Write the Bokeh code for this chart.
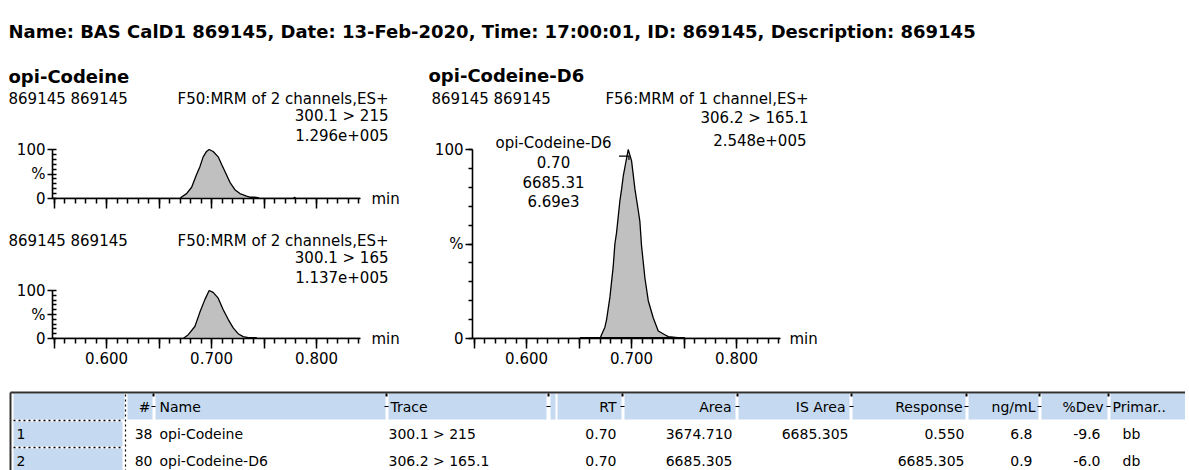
from bokeh.plotting import figure
from bokeh.layouts import column, row
from bokeh.models import Range1d, FixedTicker, ColumnDataSource, LinearAxis
from bokeh.embed import file_html
from bokeh.resources import INLINE
from bokeh.core.properties import value

FONT = "DejaVu Sans"

# ---------------- data ----------------
header_title = "Name: BAS  CalD1  869145, Date: 13-Feb-2020, Time: 17:00:01, ID: 869145, Description: 869145"

compound_1 = "opi-Codeine"
compound_2 = "opi-Codeine-D6"
sample_ids = "869145 869145"
func_1 = "F50:MRM of 2 channels,ES+"
func_2 = "F56:MRM of 1 channel,ES+"
trace_a = "300.1 > 215"
trace_b = "300.1 > 165"
trace_c = "306.2 > 165.1"
max_a = "1.296e+005"
max_b = "1.137e+005"
max_c = "2.548e+005"
peak_label_c = ["opi-Codeine-D6", "0.70", "6685.31", "6.69e3"]
x_unit = "min"

x_ticks_major = [0.55, 0.60, 0.65, 0.70, 0.75, 0.80]
x_tick_labels = {0.55: "", 0.6: "0.600", 0.65: "", 0.7: "0.700", 0.75: "", 0.8: "0.800"}
x_ticks_minor = [0.55, 0.56, 0.57, 0.58, 0.59, 0.60, 0.61, 0.62, 0.63, 0.64, 0.65, 0.66, 0.67,
                 0.68, 0.69, 0.70, 0.71, 0.72, 0.73, 0.74, 0.75, 0.76, 0.77, 0.78, 0.79, 0.80,
                 0.81, 0.82, 0.83, 0.84]
y_ticks_major = [0, 50, 100]
y_tick_labels = {0: "0", 50: "%", 100: "100"}
y_ticks_minor = [0, 10, 20, 30, 40, 50, 60, 70, 80, 90, 100]

# trace 300.1 > 215 (opi-Codeine, quan)
time_a = [0.5485, 0.6700, 0.6714, 0.6762, 0.6810, 0.6857, 0.6889, 0.6920, 0.6952, 0.6977,
          0.7015, 0.7063, 0.7095, 0.7143, 0.7175, 0.7222, 0.7270, 0.7333, 0.7365, 0.7412,
          0.7440, 0.7460, 0.7780, 0.7790, 0.7800, 0.8415]
int_a = [0, 0, 3, 10, 23, 49, 65, 85, 96, 100,
         96, 85, 70, 48, 33, 18, 10, 5, 3, 3,
         2, 0, 0, 3, 0, 0]
base_a = [0.7365, 0.7445]

# trace 300.1 > 165 (opi-Codeine, qual)
time_b = [0.5485, 0.6730, 0.6778, 0.6841, 0.6889, 0.6936, 0.6977, 0.7015, 0.7063, 0.7111,
          0.7158, 0.7206, 0.7253, 0.7301, 0.7350, 0.7412, 0.7440, 0.8415]
int_b = [0, 0, 8, 25, 55, 81, 100, 96, 84, 60,
         40, 22, 10, 4, 2, 2, 0, 0]
base_b = [0.7330, 0.7430]

# trace 306.2 > 165.1 (opi-Codeine-D6)
time_c = [0.5485, 0.6508, 0.6700, 0.6714, 0.6746, 0.6762, 0.6794, 0.6825, 0.6841, 0.6857,
          0.6889, 0.6905, 0.6921, 0.6968, 0.7000, 0.7032, 0.7063, 0.7079, 0.7095, 0.7127,
          0.7159, 0.7206, 0.7254, 0.7317, 0.7350, 0.7508, 0.8415]
int_c = [0, 0, 0, 2, 6, 10, 22, 38, 50, 56,
         73, 79, 86, 100, 94, 79, 68, 62, 49, 32,
         20, 11, 4, 2, 1, 0, 0]
base_c = [0.6508, 0.7508]
rt_c = 0.6975

# results table
tbl_headers = ["#", "Name", "Trace", "RT", "Area", "IS Area", "Response", "ng/mL", "%Dev", "Primar.."]
row_ids = ["1", "2"]
col_num = ["38", "80"]
col_name = ["opi-Codeine", "opi-Codeine-D6"]
col_trace = ["300.1 > 215", "306.2 > 165.1"]
col_rt = ["0.70", "0.70"]
col_area = ["3674.710", "6685.305"]
col_isarea = ["6685.305", ""]
col_resp = ["0.550", "6685.305"]
col_ngml = ["6.8", "0.9"]
col_dev = ["-9.6", "-6.0"]
col_prim = ["bb", "db"]

# ---------------- layout constants (page pixel coords) ----------------
X0, X1 = 0.5485, 0.8415
PXMIN = 1050.0          # pixels per minute
BLUE = "#C5DAF1"


def text_fig(x0, x1, y0, y1):
    """A figure whose frame is the whole canvas, with page pixel coordinates."""
    p = figure(width=x1 - x0, height=y1 - y0, x_range=Range1d(x0, x1), y_range=Range1d(y1, y0),
               output_backend="svg", toolbar_location=None, title=None,
               x_axis_location=None, y_axis_location=None, frame_align=False,
               min_border_left=0, min_border_right=0, min_border_top=0, min_border_bottom=0)
    p.outline_line_color = None
    p.xgrid.visible = False
    p.ygrid.visible = False
    p.grid.grid_line_color = None
    return p


def put(p, x, y, s, size="15px", align="left", bold=False):
    p.text(x=[x], y=[y], text=[s], text_font=value(FONT), text_font_size=size,
           text_align=align, text_baseline="middle", text_color="black",
           text_font_style="bold" if bold else "normal")


def make_chrom(fig_x0, fig_x1, fig_y0, fig_y1, fr_x0, fr_x1, fr_y0, fr_y1, y100,
               t, y, base_t, small, min_standoff, show_labels=True):
    width = fig_x1 - fig_x0
    height = fig_y1 - fig_y0
    x_end = X0 + (fr_x1 - fr_x0) / PXMIN
    pxpct = (fr_y1 - y100) / 100.0
    y_end = 100.0 + (y100 - fr_y0) / pxpct
    p = figure(width=width, height=height, x_range=Range1d(X0, x_end), y_range=Range1d(0, y_end),
               output_backend="svg", toolbar_location=None, title=None, frame_align=False,
               min_border_left=fr_x0 - fig_x0, min_border_right=fig_x1 - fr_x1,
               min_border_top=fr_y0 - fig_y0, min_border_bottom=fig_y1 - fr_y1)
    p.outline_line_color = None
    p.xgrid.visible = False
    p.ygrid.visible = False
    p.varea(x=t, y1=0, y2=y, fill_color="#C0C0C0")
    p.line(t, y, line_color="black", line_width=1.3)
    p.line(base_t, [0] * len(base_t), line_color="black", line_width=3)

    xa = p.xaxis[0]
    xa.ticker = FixedTicker(ticks=x_ticks_major, minor_ticks=x_ticks_minor)
    if show_labels:
        xa.major_label_overrides = x_tick_labels
    else:
        xa.major_label_overrides = {k: "" for k in x_tick_labels}
    xa.bounds = (X0, X1)
    xa.axis_line_width = 1.6
    xa.major_tick_out = 10
    xa.major_tick_in = 0
    xa.minor_tick_out = 5
    xa.minor_tick_in = 0
    xa.major_tick_line_width = 1.5
    xa.minor_tick_line_width = 1.5
    xa.major_label_text_font = FONT
    xa.major_label_text_font_size = "15px"
    xa.major_label_text_color = "black"
    xa.major_label_standoff = 3 if show_labels else 0

    ya = p.yaxis[0]
    ya.ticker = FixedTicker(ticks=y_ticks_major, minor_ticks=y_ticks_minor)
    ya.major_label_overrides = y_tick_labels
    ya.bounds = (0, 100)
    ya.axis_line_width = 1.6
    ya.major_tick_line_width = 1.5
    ya.minor_tick_line_width = 1.3
    ya.major_label_text_font = FONT
    ya.major_label_text_font_size = "15px"
    ya.major_label_text_color = "black"
    ya.major_label_standoff = 2
    if small:
        ya.major_tick_out = 5
        ya.major_tick_in = 0
        ya.minor_tick_out = 0
        ya.minor_tick_in = 4
    else:
        ya.major_tick_out = 7
        ya.major_tick_in = 0
        ya.minor_tick_out = 4
        ya.minor_tick_in = 0

    # time-unit caption next to the x axis, drawn as the label of a bare right axis at y = 0
    ra = LinearAxis(ticker=FixedTicker(ticks=[0]), major_label_overrides={0: x_unit},
                    axis_line_color=None, major_tick_line_color=None, minor_tick_line_color=None,
                    major_tick_out=0, major_tick_in=0, major_label_standoff=min_standoff,
                    major_label_text_font=FONT, major_label_text_font_size="15px",
                    major_label_text_color="black")
    p.add_layout(ra, "right")
    return p, (fr_x0, fr_y1, pxpct, y100)


def add_text(p, geom, px, py, s, size="15px", align="left"):
    fl, fb, pxpct, _ = geom
    x = X0 + (px - fl) / PXMIN
    yv = (fb - py) / pxpct
    p.text(x=[x], y=[yv], text=[s], text_font=value(FONT), text_font_size=size,
           text_align=align, text_baseline="middle", text_color="black")


# ---------------- header ----------------
hdr = text_fig(0, 1185, 0, 60)
put(hdr, 8, 31, header_title, size="18px", bold=True)

# ---------------- left column ----------------
txt_a = text_fig(0, 418, 60, 125)
put(txt_a, 8, 76, compound_1, size="18px", bold=True)
put(txt_a, 8, 98, sample_ids)
put(txt_a, 388, 98, func_1, align="right")
put(txt_a, 388, 115, trace_a, align="right")

p_a, g_a = make_chrom(0, 418, 125, 228, 52, 395, 125, 198, 149,
                      time_a, int_a, base_a, True, -24, show_labels=False)
add_text(p_a, g_a, 388, 134, max_a, align="right")

txt_b = text_fig(0, 418, 228, 267)
put(txt_b, 8, 240, sample_ids)
put(txt_b, 388, 240, func_1, align="right")
put(txt_b, 388, 257, trace_b, align="right")

p_b, g_b = make_chrom(0, 418, 267, 380, 52, 395, 267, 338, 290,
                      time_b, int_b, base_b, True, -24)
add_text(p_b, g_b, 388, 276, max_b, align="right")

# ---------------- right column ----------------
txt_c = text_fig(418, 830, 60, 128)
put(txt_c, 428, 75, compound_2, size="18px", bold=True)
put(txt_c, 431, 98, sample_ids)
put(txt_c, 808, 98, func_2, align="right")
put(txt_c, 808, 117, trace_c, align="right")

p_c, g_c = make_chrom(418, 830, 128, 380, 472, 820, 128, 338, 149,
                      time_c, int_c, base_c, False, -31)
add_text(p_c, g_c, 806, 139, max_c, align="right")
for s, py in zip(peak_label_c, [142, 161, 181, 200]):
    add_text(p_c, g_c, 553, py, s, align="center")
# leader line from the peak label to the apex
p_c.line([rt_c - 0.0095, rt_c, rt_c], [96.5, 96.5, 94.5], line_color="black", line_width=1.2)

# ---------------- table ----------------
tb = text_fig(0, 1185, 380, 470)

hc_left = [13, 127, 155, 388, 550, 557, 624, 738, 852, 968, 1041, 1110]
hc_right = [124, 152, 385, 546, 555, 621, 735, 849, 965, 1038, 1107, 1185]
tb.quad(left=hc_left, right=hc_right, top=[393] * 12, bottom=[419] * 12,
        fill_color=BLUE, line_color=None)
tb.quad(left=[13, 13], right=[122, 122], top=[421, 448], bottom=[446, 473],
        fill_color=BLUE, line_color=None)
tb.line([10, 1185], [392, 392], line_color="#303030", line_width=2)
tb.line([10, 10], [392, 470], line_color="#303030", line_width=2)
tb.line([13, 122], [420, 420], line_color="black", line_width=1.5, line_dash="2 3")
tb.line([13, 122], [447, 447], line_color="black", line_width=1.5, line_dash="2 3")
tb.line([125, 125], [394, 470], line_color="black", line_width=1.2, line_dash="2 3")
sep_x = [153, 386, 548, 622, 737, 851, 966, 1039, 1108]
tb.segment(x0=[a - 2 for a in sep_x], x1=[a + 2 for a in sep_x],
           y0=[406] * 9, y1=[406] * 9, line_color="black", line_width=1)
tb.segment(x0=sep_x, x1=sep_x, y0=[393] * 9, y1=[396] * 9, line_color="black", line_width=2)

hdr_x = [150, 159, 390, 616, 731, 845, 962, 1035, 1103, 1112]
hdr_align = ["right", "left", "left", "right", "right", "right", "right", "right", "right", "left"]
src_l = dict(x=[], y=[], t=[])
src_r = dict(x=[], y=[], t=[])
for h, xx, al in zip(tbl_headers, hdr_x, hdr_align):
    d = src_l if al == "left" else src_r
    d["x"].append(xx)
    d["y"].append(406)
    d["t"].append(h)

row_y = [433, 460]
cols = [(row_ids, 16, "left"), (col_num, 152, "right"), (col_name, 159, "left"),
        (col_trace, 388, "left"), (col_rt, 616, "right"), (col_area, 732, "right"),
        (col_isarea, 848, "right"), (col_resp, 964, "right"), (col_ngml, 1032, "right"),
        (col_dev, 1100, "right"), (col_prim, 1122, "left")]
for vals, xx, al in cols:
    d = src_l if al == "left" else src_r
    for v, yy in zip(vals, row_y):
        if v == "":
            continue
        d["x"].append(xx)
        d["y"].append(yy)
        d["t"].append(v)

tb.text(x="x", y="y", text="t", source=ColumnDataSource(src_l), text_font=value(FONT),
        text_font_size="14px", text_align="left", text_baseline="middle", text_color="black")
tb.text(x="x", y="y", text="t", source=ColumnDataSource(src_r), text_font=value(FONT),
        text_font_size="14px", text_align="right", text_baseline="middle", text_color="black")

layout = column(hdr,
                row(column(txt_a, p_a, txt_b, p_b), column(txt_c, p_c)),
                tb)

open("out.html", "w").write(file_html(layout, INLINE))
